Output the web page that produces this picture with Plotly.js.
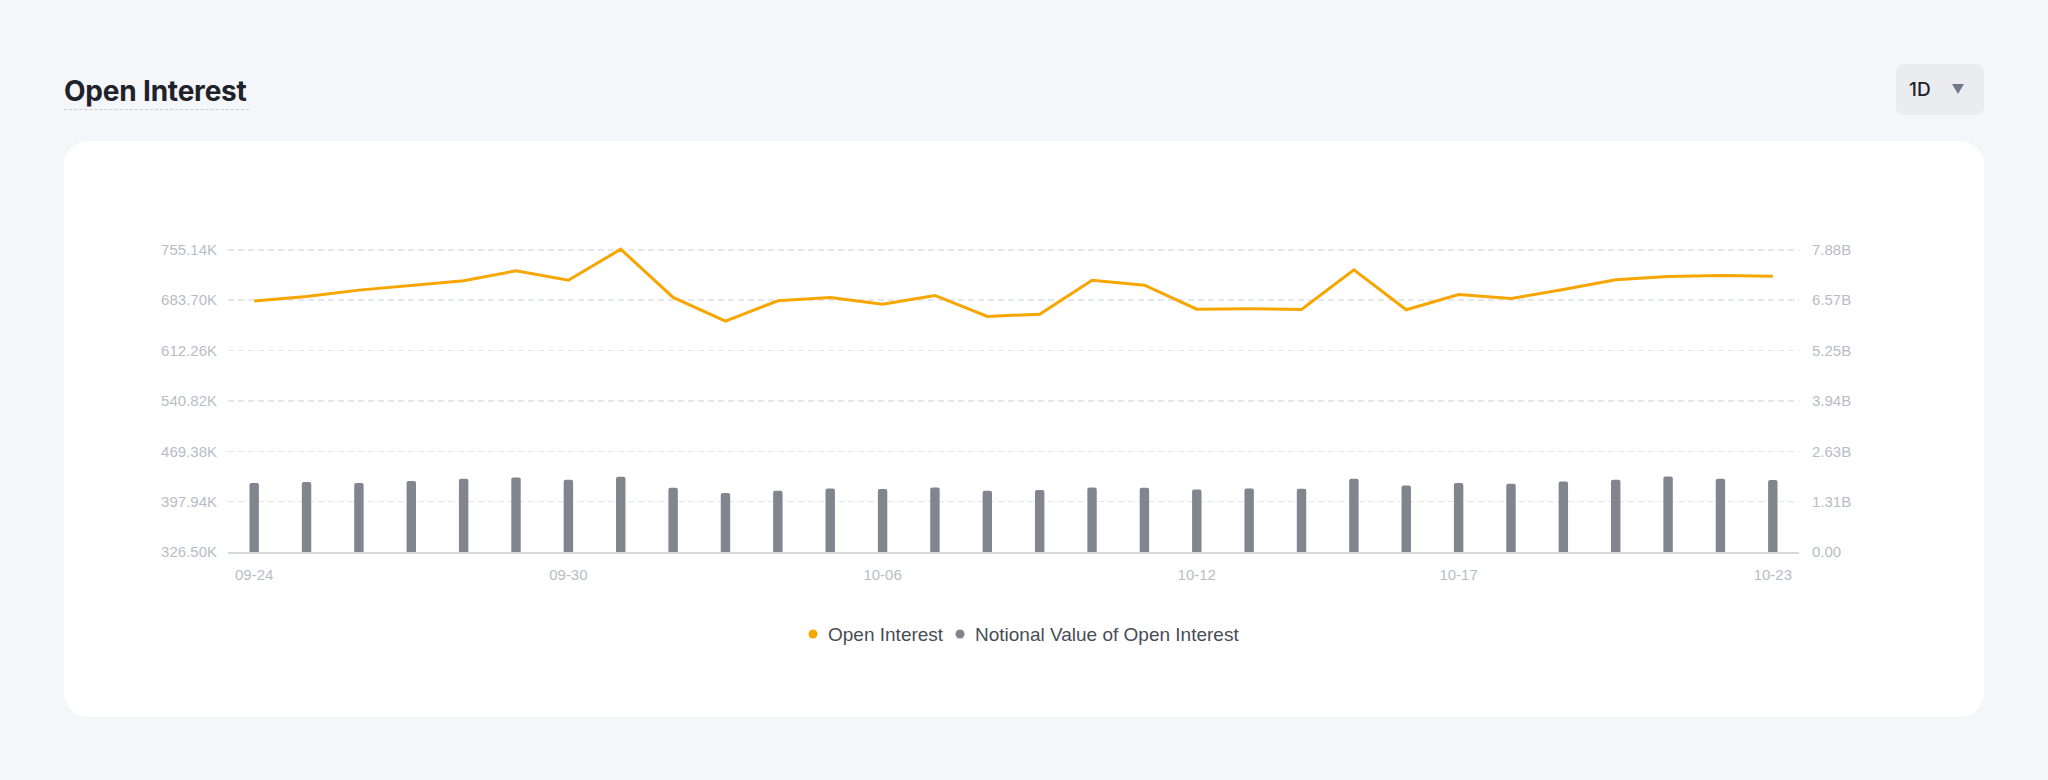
<!DOCTYPE html>
<html>
<head>
<meta charset="utf-8">
<script src="https://cdn.plot.ly/plotly-3.0.1.min.js"></script>
<style>
  html, body { margin:0; padding:0; width:2048px; height:780px; background:#F5F6FA; overflow:hidden; }
  #title { position:absolute; left:64px; top:75px; font-family:Inter, "Noto Sans", sans-serif; font-weight:700; font-size:28px; color:#1E2329; line-height:32px; white-space:nowrap; letter-spacing:-0.2px; }
  #uline { position:absolute; left:64px; top:109px; width:185px; height:0; border-top:1px dashed #C9CED4; }
  #dd { position:absolute; left:1896px; top:64px; width:88px; height:51px; background:#EAECEF; border-radius:8px; }
  #ddtext { position:absolute; left:13px; top:0; line-height:51px; font-family:Inter, "Noto Sans", sans-serif; font-weight:500; font-size:19px; color:#1E2329; }
  #ddarrow { position:absolute; left:56px; top:20px; width:0; height:0; border-left:6.5px solid transparent; border-right:6.5px solid transparent; border-top:10px solid #707A8A; }
  #card { position:absolute; left:64px; top:141px; width:1920px; height:576px; background:#FFFFFF; border-radius:24px; }
  #chart { position:absolute; left:0; top:0; width:2048px; height:780px; }
</style>
</head>
<body>
<div id="title">Open Interest</div>
<div id="uline"></div>
<div id="dd"><span id="ddtext">1D</span><div id="ddarrow"></div></div>
<div id="card"></div>
<div id="chart"></div>
<script>
// ---- data ----
const dates = ['09-24','09-25','09-26','09-27','09-28','09-29','09-30',
  '10-01','10-02','10-03','10-04','10-05','10-06','10-07','10-08','10-09','10-10',
  '10-11','10-12','10-13','10-14','10-15','10-16','10-17','10-18','10-19','10-20',
  '10-21','10-22','10-23'];
// Open Interest, thousands
const openInterestK = [682.4, 689.0, 698.0, 704.1, 711.2, 725.4, 712.1, 756.0, 687.6, 654.0,
  682.8, 687.6, 678.1, 690.4, 660.6, 663.9, 712.1, 705.0, 671.0, 671.5,
  670.5, 726.8, 670.1, 691.8, 686.1, 698.9, 712.6, 717.3, 718.8, 717.8];
// Notional value of open interest, billions
const notionalB = [1.798, 1.824, 1.798, 1.850, 1.911, 1.946, 1.885, 1.963, 1.676, 1.537,
  1.598, 1.659, 1.642, 1.685, 1.598, 1.616, 1.685, 1.676, 1.633, 1.659,
  1.650, 1.911, 1.737, 1.798, 1.781, 1.841, 1.885, 1.972, 1.911, 1.876];
const xTickVals = ['09-24','09-30','10-06','10-12','10-17','10-23'];
const leftTickVals = [326.50, 397.94, 469.38, 540.82, 612.26, 683.70, 755.14];
const leftTickText = ['326.50K','397.94K','469.38K','540.82K','612.26K','683.70K','755.14K'];
const rightTickVals = [0, 7.88/6, 7.88*2/6, 7.88*3/6, 7.88*4/6, 7.88*5/6, 7.88];
const rightTickText = ['0.00','1.31B','2.63B','3.94B','5.25B','6.57B','7.88B'];
const seriesNames = ['Open Interest', 'Notional Value of Open Interest'];
const colors = { oi: '#F7A600', nv: '#81868E' };

// ---- layout geometry ----
const W = 2048, H = 780;
const M = { l: 228, r: 249, t: 245, b: 228 };
const pw = W - M.l - M.r, ph = H - M.t - M.b;
const px2x = p => (p - M.l) / pw;
const py2y = p => (H - M.b - p) / ph;

const leftMin = 326.5, leftTop = 762;
const rightTop = 7.88 * (leftTop - leftMin) / (755.14 - leftMin);

const tickFont = { family: 'Liberation Sans, Arial, sans-serif', size: 15, color: '#B7BDC6' };
const legendFont = { family: 'Liberation Sans, Arial, sans-serif', size: 19, color: '#474D57' };

const traces = [
  { type: 'bar', x: dates, y: notionalB, yaxis: 'y2', name: seriesNames[1],
    marker: { color: colors.nv, cornerradius: 2 }, width: 0.18, showlegend: false, hoverinfo: 'skip' },
  { type: 'scatter', mode: 'lines', x: dates, y: openInterestK, yaxis: 'y', name: seriesNames[0],
    line: { color: colors.oi, width: 3 }, showlegend: false, hoverinfo: 'skip' }
];

const legendDots = [
  { px: 813, color: colors.oi }, { px: 960, color: colors.nv }
];
const legendTexts = [
  { px: 826, text: seriesNames[0] }, { px: 973, text: seriesNames[1] }
];
const legendY = py2y(634);

const layout = {
  width: W, height: H,
  margin: M,
  paper_bgcolor: 'rgba(0,0,0,0)',
  plot_bgcolor: 'rgba(0,0,0,0)',
  showlegend: false,
  xaxis: {
    type: 'category', range: [-0.5, dates.length - 0.5],
    tickmode: 'array', tickvals: xTickVals, ticktext: xTickVals,
    showgrid: false, zeroline: false, showline: true, linecolor: '#D5D9DE', linewidth: 2,
    ticks: '', tickfont: tickFont, ticklabelstandoff: 8, fixedrange: true
  },
  yaxis: {
    range: [leftMin, leftTop], tickmode: 'array', tickvals: leftTickVals, ticktext: leftTickText,
    showgrid: true, gridcolor: '#E3E6EA', gridwidth: 1.5, griddash: '6px,4px',
    zeroline: false, showline: false, ticks: '', tickfont: tickFont, ticklabelstandoff: 10
  },
  yaxis2: {
    overlaying: 'y', side: 'right', range: [0, rightTop],
    tickmode: 'array', tickvals: rightTickVals, ticktext: rightTickText,
    showgrid: false, zeroline: false, showline: false, ticks: '', tickfont: tickFont, ticklabelstandoff: 12
  },
  shapes: legendDots.map(d => ({
    type: 'circle', xref: 'paper', yref: 'paper', xsizemode: 'pixel', ysizemode: 'pixel',
    xanchor: px2x(d.px), yanchor: legendY, x0: -4.5, x1: 4.5, y0: -4.5, y1: 4.5,
    fillcolor: d.color, line: { width: 0 }
  })),
  annotations: legendTexts.map(t => ({
    xref: 'paper', yref: 'paper', x: px2x(t.px), y: legendY, xanchor: 'left', yanchor: 'middle',
    text: t.text, showarrow: false, font: legendFont
  }))
};

Plotly.newPlot('chart', traces, layout, { staticPlot: true, displayModeBar: false });
</script>
</body>
</html>
